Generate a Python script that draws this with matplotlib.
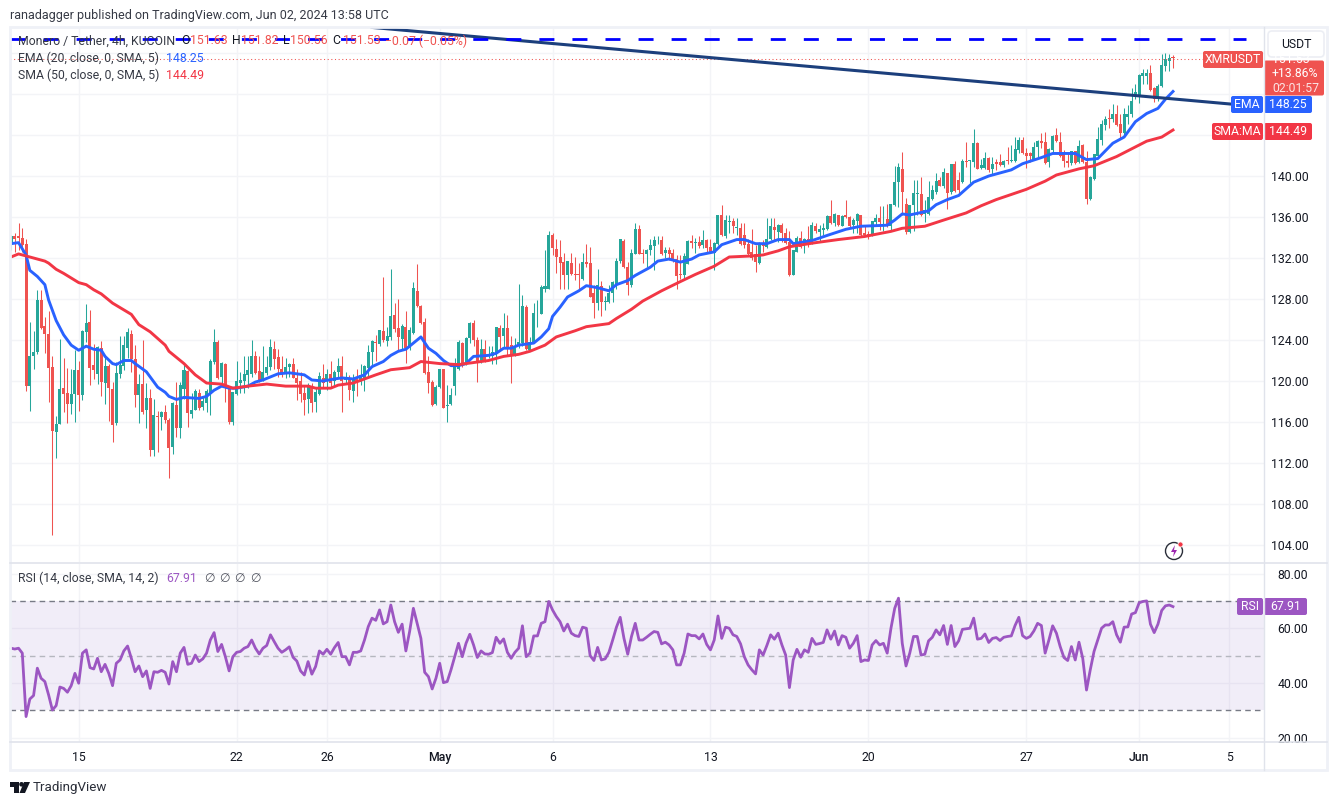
"""XMR/USDT 4h TradingView chart with EMA, SMA and RSI panes."""

import matplotlib

matplotlib.use("Agg")
import matplotlib.pyplot as plt
import numpy as np
from matplotlib.patches import Circle, FancyBboxPatch, Polygon, Rectangle

opens = [
    133.4, 134.1, 134.1, 134.0, 133.4, 119.5, 122.4, 122.8, 127.9, 125.4,
    124.6, 121.4, 115.0, 115.8, 119.3, 118.8, 117.8, 118.7, 121.1, 118.6,
    124.8, 125.8, 121.6, 120.7, 123.2, 119.8, 121.5, 119.2, 115.9, 120.7,
    121.5, 123.2, 124.6, 122.1, 118.6, 119.7, 117.2, 118.3, 113.3, 116.6,
    116.5, 117.0, 116.2, 113.6, 117.7, 115.4, 119.2, 121.0, 116.8, 117.2,
    118.8, 117.5, 117.9, 118.7, 121.9, 123.8, 120.4, 121.7, 119.5, 116.0,
    118.7, 119.8, 120.0, 120.6, 120.7, 122.4, 121.0, 120.1, 120.8, 121.4,
    123.1, 122.3, 121.2, 120.7, 121.4, 121.7, 120.3, 120.0, 118.8, 118.2,
    119.5, 118.0, 118.7, 120.3, 120.0, 120.7, 120.0, 120.9, 121.5, 120.1,
    120.3, 119.0, 120.4, 119.9, 120.1, 121.3, 122.8, 123.8, 123.6, 124.9,
    123.9, 124.3, 126.4, 125.2, 124.1, 125.3, 123.2, 124.7, 128.8, 127.3,
    125.8, 120.9, 119.9, 117.8, 119.4, 121.2, 117.6, 117.8, 119.5, 121.2,
    123.7, 121.7, 124.2, 125.7, 124.0, 122.0, 123.1, 122.4, 122.4, 122.7,
    125.2, 124.4, 125.2, 123.5, 122.4, 123.4, 123.7, 127.2, 123.0, 123.8,
    126.5, 126.5, 129.0, 129.0, 134.2, 132.9, 132.1, 131.6, 130.3, 131.5,
    130.4, 130.4, 130.0, 131.6, 131.5, 128.6, 127.6, 129.3, 127.7, 127.7,
    128.6, 129.5, 131.7, 133.7, 131.1, 129.4, 132.4, 134.8, 132.5, 132.4,
    132.8, 133.2, 133.8, 133.8, 132.5, 132.8, 132.5, 131.9, 130.4, 130.3,
    131.4, 133.7, 133.5, 133.6, 133.3, 133.8, 133.1, 132.5, 133.4, 136.2,
    134.1, 135.5, 135.6, 134.9, 134.9, 134.2, 133.4, 132.6, 132.4, 131.5,
    133.5, 133.1, 133.9, 135.0, 134.5, 135.2, 134.4, 133.6, 130.3, 132.6,
    134.0, 133.3, 133.9, 133.6, 135.1, 134.5, 134.7, 134.8, 136.1, 135.4,
    136.2, 135.1, 136.2, 136.0, 135.2, 135.6, 136.2, 134.4, 134.3, 134.2,
    135.5, 135.9, 135.6, 135.8, 135.1, 137.2, 139.4, 140.7, 137.3, 134.5,
    137.2, 138.2, 138.2, 136.3, 136.3, 137.8, 138.4, 139.6, 139.0, 140.3,
    138.4, 141.2, 139.6, 139.4, 141.5, 141.5, 141.4, 143.2, 140.8, 140.8,
    141.8, 140.7, 141.4, 141.4, 141.1, 141.6, 141.5, 141.5, 142.5, 143.5,
    142.2, 142.2, 141.7, 142.8, 143.4, 143.3, 141.4, 142.5, 144.0, 143.3,
    142.3, 141.5, 141.3, 142.4, 141.4, 143.0, 141.4, 137.8, 139.7, 142.0,
    143.5, 145.0, 145.7, 145.6, 146.1, 145.1, 144.2, 145.8, 146.1, 147.8,
    147.8, 149.8, 149.8, 150.1, 148.6, 147.6, 148.8, 150.7, 151.2, 151.63,
]
highs = [
    134.2, 134.4, 135.4, 134.9, 133.9, 125.8, 124.9, 128.9, 128.9, 126.2,
    126.8, 122.4, 116.6, 124.1, 122.2, 121.3, 121.2, 123.0, 122.0, 125.0,
    127.5, 126.9, 123.6, 123.4, 123.9, 122.5, 121.7, 119.9, 121.9, 124.4,
    124.4, 125.2, 125.0, 123.5, 120.7, 124.0, 119.8, 119.2, 118.2, 117.1,
    117.1, 117.7, 116.4, 118.0, 119.9, 119.9, 121.7, 121.1, 118.8, 119.2,
    119.2, 118.5, 119.2, 122.1, 125.1, 124.0, 121.9, 121.8, 119.5, 118.9,
    122.0, 120.9, 122.4, 122.4, 124.0, 122.9, 122.4, 123.4, 122.4, 124.1,
    123.9, 123.1, 122.4, 122.2, 121.8, 122.2, 121.2, 120.9, 119.6, 119.8,
    119.8, 119.3, 120.9, 121.7, 121.2, 122.0, 121.1, 122.2, 122.4, 120.9,
    120.6, 120.7, 121.2, 121.7, 121.6, 123.5, 124.0, 124.5, 125.0, 130.1,
    125.3, 130.9, 127.6, 128.0, 125.6, 126.8, 125.3, 129.7, 131.4, 127.4,
    126.1, 122.4, 120.1, 119.6, 121.2, 121.2, 119.6, 119.3, 122.2, 124.0,
    123.8, 124.3, 125.8, 126.0, 124.3, 124.1, 124.0, 123.4, 123.4, 125.3,
    125.5, 126.6, 126.4, 124.4, 124.2, 129.5, 128.4, 127.4, 124.3, 127.6,
    127.9, 129.4, 132.8, 134.6, 134.4, 133.9, 133.8, 132.5, 131.7, 132.5,
    132.1, 131.5, 132.5, 133.4, 133.1, 129.4, 130.9, 129.8, 128.3, 129.4,
    129.8, 132.0, 133.9, 133.9, 131.6, 132.9, 135.4, 135.2, 132.9, 132.9,
    133.9, 134.1, 134.1, 134.1, 133.1, 133.1, 132.9, 132.3, 132.3, 132.5,
    133.8, 134.2, 134.0, 134.1, 134.7, 133.9, 133.9, 133.6, 136.2, 137.2,
    136.2, 136.2, 135.9, 135.9, 135.4, 135.4, 133.9, 134.8, 133.3, 133.6,
    133.8, 135.9, 135.9, 135.9, 135.3, 135.4, 134.9, 134.6, 132.8, 134.1,
    134.6, 134.0, 135.1, 135.5, 135.4, 135.2, 135.4, 136.2, 137.7, 136.4,
    136.2, 136.2, 137.7, 136.1, 135.9, 136.4, 136.2, 135.1, 134.6, 135.6,
    136.3, 137.1, 137.1, 137.3, 137.3, 141.0, 141.3, 142.3, 137.9, 137.2,
    139.6, 139.6, 139.9, 137.7, 139.5, 139.1, 140.3, 139.9, 140.8, 140.3,
    141.2, 141.5, 140.4, 141.7, 143.3, 141.6, 144.6, 143.3, 141.7, 142.3,
    141.9, 141.9, 141.7, 142.1, 141.6, 142.8, 143.0, 143.8, 143.8, 143.8,
    142.7, 142.3, 143.3, 143.5, 144.2, 144.3, 142.7, 144.0, 144.7, 144.3,
    142.5, 142.3, 142.4, 142.4, 143.5, 143.1, 142.4, 140.0, 142.1, 144.8,
    145.5, 145.9, 146.5, 147.0, 146.9, 146.1, 146.6, 146.9, 148.6, 149.0,
    150.0, 150.4, 150.4, 150.8, 148.7, 149.0, 151.9, 152.0, 151.9, 151.82,
]
lows = [
    132.8, 132.6, 132.8, 132.6, 119.0, 117.1, 121.2, 122.6, 125.1, 122.7,
    118.0, 105.0, 112.5, 115.8, 117.0, 115.9, 116.8, 116.0, 117.1, 118.1,
    123.8, 119.6, 120.2, 119.7, 118.5, 117.8, 116.1, 114.0, 115.7, 120.3,
    121.1, 122.2, 120.9, 117.5, 115.9, 116.8, 115.4, 112.7, 112.7, 113.1,
    115.2, 115.9, 110.5, 112.9, 114.5, 114.4, 118.2, 115.5, 116.4, 117.2,
    117.2, 117.2, 117.0, 116.7, 121.7, 120.2, 119.5, 118.0, 115.8, 115.7,
    118.6, 118.8, 118.8, 119.3, 120.4, 120.7, 119.9, 120.0, 120.6, 121.1,
    121.2, 120.4, 120.4, 120.3, 120.4, 120.3, 118.1, 118.0, 116.7, 116.9,
    117.0, 117.0, 118.6, 119.3, 119.1, 119.3, 119.5, 120.4, 117.0, 119.8,
    118.1, 118.0, 118.5, 119.6, 119.0, 120.4, 121.4, 122.0, 123.4, 123.8,
    123.4, 124.0, 124.8, 123.0, 123.0, 121.8, 123.0, 124.6, 127.2, 125.6,
    120.7, 118.8, 117.6, 117.7, 119.3, 117.4, 116.0, 117.7, 118.6, 121.1,
    121.4, 121.6, 123.7, 123.4, 119.9, 121.8, 121.9, 122.2, 121.7, 121.7,
    122.9, 123.2, 122.5, 119.8, 122.4, 123.2, 123.4, 123.0, 122.9, 123.7,
    125.3, 126.5, 128.7, 129.0, 132.3, 130.5, 129.0, 129.0, 129.0, 130.3,
    129.9, 129.0, 129.9, 131.1, 128.2, 126.1, 126.9, 126.3, 126.9, 127.6,
    127.7, 129.0, 131.5, 131.0, 128.4, 129.2, 132.4, 132.4, 131.5, 131.1,
    132.3, 130.8, 133.4, 132.3, 132.0, 131.8, 131.6, 129.0, 130.0, 130.0,
    131.4, 133.0, 132.5, 133.0, 133.0, 132.5, 132.5, 130.8, 133.3, 134.1,
    134.0, 134.4, 134.4, 134.2, 133.3, 133.0, 132.3, 131.8, 130.6, 131.4,
    132.6, 133.0, 133.8, 133.8, 133.6, 133.6, 133.4, 130.2, 130.3, 132.6,
    133.0, 132.5, 133.1, 133.4, 134.4, 133.6, 134.2, 134.7, 135.3, 135.1,
    135.1, 135.1, 135.9, 135.0, 134.4, 134.4, 134.1, 134.1, 133.9, 134.1,
    135.1, 134.7, 134.6, 135.0, 134.6, 137.1, 137.0, 136.2, 134.3, 134.4,
    134.6, 136.2, 136.1, 135.5, 136.2, 137.7, 138.2, 139.0, 138.8, 136.8,
    138.2, 138.4, 138.1, 139.3, 140.9, 139.3, 140.9, 140.7, 140.7, 140.7,
    140.4, 140.1, 140.6, 141.0, 140.9, 141.2, 141.4, 141.4, 142.2, 142.1,
    140.8, 141.4, 141.7, 141.9, 142.7, 141.2, 140.9, 142.2, 143.3, 141.9,
    140.9, 140.9, 141.1, 141.2, 141.3, 141.3, 137.3, 137.7, 139.6, 141.9,
    143.0, 144.5, 144.7, 145.3, 144.9, 143.7, 144.0, 145.1, 145.8, 147.5,
    147.1, 149.0, 149.0, 148.3, 147.2, 147.3, 148.7, 150.2, 150.2, 150.56,
]
closes = [
    134.1, 133.9, 134.0, 133.3, 119.5, 122.4, 122.8, 127.9, 125.2, 124.6,
    121.3, 115.1, 115.8, 119.2, 118.7, 117.8, 118.7, 121.1, 118.6, 124.9,
    125.7, 121.3, 121.1, 123.3, 119.9, 121.5, 119.3, 115.7, 120.8, 121.6,
    123.5, 124.8, 122.1, 118.6, 119.7, 117.0, 118.3, 113.3, 116.7, 116.5,
    117.0, 116.2, 113.5, 117.9, 115.4, 119.6, 121.1, 116.9, 117.2, 119.0,
    117.4, 118.0, 119.0, 122.0, 123.8, 120.3, 121.8, 119.3, 116.0, 118.9,
    120.0, 120.1, 120.7, 121.1, 122.4, 120.8, 120.1, 120.9, 121.4, 123.3,
    122.1, 121.2, 120.7, 121.4, 121.7, 120.3, 119.8, 118.7, 118.1, 119.6,
    117.9, 118.9, 120.5, 119.8, 120.7, 119.8, 120.9, 121.5, 120.0, 120.4,
    119.1, 120.3, 119.8, 120.6, 121.5, 122.8, 123.9, 123.7, 125.0, 124.0,
    124.4, 126.3, 125.1, 124.3, 125.4, 123.2, 125.0, 129.1, 127.3, 125.7,
    120.8, 119.8, 117.7, 119.4, 121.2, 117.4, 117.7, 118.6, 121.4, 123.8,
    121.6, 124.2, 125.7, 124.0, 121.9, 123.1, 122.0, 122.5, 122.8, 125.3,
    124.3, 125.2, 123.2, 122.5, 123.4, 123.8, 127.3, 123.1, 123.8, 126.6,
    126.5, 129.2, 129.3, 134.2, 133.0, 132.1, 131.5, 130.3, 131.7, 130.4,
    130.3, 130.3, 131.6, 131.4, 128.2, 127.6, 129.4, 127.7, 127.8, 128.6,
    129.7, 131.7, 133.9, 131.1, 129.4, 132.5, 134.8, 132.4, 132.4, 132.8,
    133.3, 133.8, 133.8, 132.4, 132.8, 132.4, 131.9, 130.2, 130.3, 132.2,
    133.7, 133.5, 133.6, 133.2, 133.8, 133.0, 132.5, 133.5, 136.2, 134.2,
    135.7, 135.6, 135.1, 135.0, 133.4, 133.3, 132.4, 132.0, 131.6, 133.5,
    133.2, 133.9, 135.1, 134.7, 135.2, 134.4, 133.5, 130.3, 132.8, 134.0,
    133.1, 133.9, 133.5, 135.2, 134.6, 134.8, 134.9, 136.1, 135.4, 136.3,
    135.2, 136.1, 136.0, 135.1, 135.7, 136.3, 134.2, 134.2, 134.2, 135.6,
    135.9, 135.5, 135.6, 135.1, 137.3, 139.4, 140.9, 138.4, 134.5, 137.2,
    138.3, 138.3, 136.2, 136.7, 138.0, 138.6, 139.5, 139.0, 140.4, 138.3,
    141.2, 138.5, 138.6, 141.5, 141.4, 141.6, 143.2, 140.7, 141.1, 141.8,
    140.6, 141.2, 141.2, 141.1, 141.5, 141.5, 141.6, 142.6, 143.5, 142.2,
    142.0, 142.0, 142.8, 143.4, 143.2, 141.3, 142.6, 143.9, 143.4, 142.0,
    141.5, 141.3, 142.4, 141.3, 142.9, 141.4, 137.8, 139.9, 142.1, 143.6,
    145.1, 145.6, 145.6, 146.1, 145.0, 144.2, 146.1, 146.1, 147.3, 148.2,
    149.9, 150.1, 150.1, 148.4, 147.5, 148.8, 150.8, 151.4, 151.5, 151.53,
]

ema_bars = [
    0, 2, 4, 5, 7, 9, 10, 12, 14, 16, 18, 20, 22, 24, 25, 27, 28, 30, 32, 33,
    36, 38, 39, 41, 42, 44, 46, 50, 52, 54, 56, 58, 60, 63, 65, 67, 69, 71, 74, 76,
    78, 80, 83, 86, 88, 91, 94, 96, 99, 101, 103, 105, 107, 109, 111, 113, 115, 117, 119, 121,
    123, 127, 129, 131, 133, 135, 137, 139, 141, 143, 144, 146, 148, 151, 153, 156, 159, 161, 164, 166,
    170, 172, 175, 178, 181, 183, 187, 189, 193, 195, 198, 201, 204, 207, 208, 213, 217, 222, 226, 233,
    235, 237, 239, 244, 246, 249, 252, 256, 260, 266, 269, 274, 277, 283, 286, 289, 293, 296, 299, 302,
    305, 307, 309,
]
ema_values = [
    133.4, 133.5, 132.3, 130.8, 130.2, 129.4, 127.9, 125.9, 124.5, 123.5,
    123.0, 123.4, 123.1, 123.0, 122.4, 121.7, 121.6, 122.0, 122.0, 121.7,
    120.9, 119.9, 119.4, 118.9, 118.5, 118.2, 118.4, 118.3, 118.5, 119.1,
    119.5, 119.3, 119.3, 119.5, 119.9, 120.1, 120.4, 120.7, 120.8, 120.7,
    120.6, 120.1, 120.0, 120.2, 120.3, 120.2, 120.6, 121.4, 121.9, 122.5,
    122.9, 123.1, 123.7, 124.3, 123.2, 122.7, 122.0, 121.5, 121.5, 121.7,
    122.4, 122.5, 122.7, 123.2, 123.2, 123.5, 123.6, 123.7, 124.3, 125.1,
    126.3, 127.2, 128.2, 128.8, 129.3, 129.1, 128.8, 129.4, 129.8, 130.3,
    131.1, 131.7, 131.9, 131.6, 131.9, 132.3, 132.6, 133.3, 133.8, 133.8,
    133.4, 133.4, 133.8, 133.8, 133.4, 133.7, 134.2, 134.8, 135.1, 135.2,
    135.7, 136.3, 136.2, 136.6, 137.2, 137.7, 138.1, 139.4, 140.0, 140.6,
    141.2, 141.8, 142.2, 142.2, 141.6, 141.7, 143.2, 143.8, 145.3, 146.1,
    146.6, 147.5, 148.25,
]
sma_bars = [
    0, 2, 5, 9, 10, 12, 14, 18, 20, 22, 24, 27, 32, 34, 37, 41, 42, 46, 49, 52,
    56, 59, 63, 68, 73, 79, 81, 85, 87, 91, 94, 97, 101, 106, 109, 114, 119, 123, 127, 131,
    135, 138, 142, 145, 150, 153, 159, 161, 165, 168, 173, 178, 182, 187, 191, 197, 200, 204, 207, 214,
    220, 227, 234, 237, 243, 248, 254, 258, 262, 270, 275, 278, 284, 288, 294, 302, 306, 309,
]
sma_values = [
    132.1, 132.4, 132.1, 131.7, 131.5, 130.9, 130.5, 129.6, 129.4, 128.9,
    128.5, 127.6, 126.5, 125.5, 124.8, 123.5, 122.9, 121.7, 120.6, 119.8,
    119.7, 119.3, 119.5, 119.7, 119.5, 119.5, 119.3, 119.3, 119.6, 119.8,
    120.2, 120.6, 121.1, 121.3, 121.9, 121.7, 121.6, 121.8, 122.0, 122.4,
    122.6, 122.9, 123.5, 124.3, 124.9, 125.3, 125.6, 126.1, 127.0, 127.8,
    128.8, 129.7, 130.4, 131.2, 132.1, 132.2, 132.3, 132.7, 133.1, 133.5,
    133.8, 134.1, 134.6, 134.9, 135.1, 135.7, 136.4, 137.1, 137.7, 138.7,
    139.5, 140.1, 140.7, 141.0, 141.9, 143.4, 143.8, 144.49,
]
rsi_values = [
    52.7, 52.4, 52.7, 50.9, 27.7, 34.1, 35.4, 45.4, 41.7, 40.5,
    35.6, 30.1, 31.7, 38.5, 38.0, 36.6, 39.0, 43.5, 39.9, 50.9,
    52.1, 45.6, 45.1, 49.0, 44.1, 46.8, 43.5, 39.0, 47.2, 48.4,
    51.7, 53.5, 49.0, 44.1, 46.2, 42.3, 44.4, 38.0, 44.1, 43.9,
    44.6, 43.9, 39.6, 47.8, 44.1, 50.9, 53.0, 46.8, 47.2, 50.2,
    47.8, 48.8, 50.9, 55.7, 58.4, 51.5, 54.1, 49.6, 44.4, 49.6,
    51.2, 51.5, 52.7, 53.3, 55.7, 52.7, 50.6, 52.7, 53.7, 57.6,
    55.1, 52.7, 51.2, 52.1, 53.2, 49.4, 48.0, 44.4, 42.9, 47.8,
    43.2, 46.0, 51.7, 50.5, 52.3, 50.5, 52.9, 54.8, 49.6, 49.6,
    46.6, 51.2, 51.2, 51.7, 55.7, 60.6, 63.7, 62.9, 66.7, 61.6,
    62.4, 68.5, 62.4, 58.5, 61.5, 51.7, 58.8, 67.3, 61.8, 56.3,
    43.9, 42.3, 37.8, 41.7, 47.2, 40.1, 40.5, 44.8, 49.6, 54.5,
    49.6, 54.5, 57.8, 53.9, 49.3, 51.7, 50.6, 50.5, 51.1, 56.7,
    54.5, 56.1, 51.2, 49.0, 51.2, 52.7, 60.9, 49.6, 50.9, 57.2,
    57.2, 61.8, 62.4, 69.8, 66.7, 64.3, 62.4, 59.0, 61.5, 58.2,
    57.3, 57.0, 60.4, 60.0, 50.0, 48.2, 53.0, 48.4, 48.8, 51.2,
    55.7, 60.4, 64.0, 56.3, 50.5, 57.0, 61.8, 55.7, 55.7, 56.7,
    57.8, 58.8, 58.5, 54.3, 54.9, 53.9, 52.1, 46.6, 46.6, 50.9,
    57.9, 57.3, 57.3, 56.1, 57.9, 54.1, 52.1, 55.7, 64.5, 56.3,
    60.4, 60.0, 57.6, 57.0, 54.3, 49.6, 46.6, 44.8, 43.3, 52.1,
    50.2, 53.7, 57.6, 56.0, 58.2, 53.9, 50.2, 38.3, 48.4, 52.3,
    49.4, 52.1, 51.2, 56.3, 54.1, 54.4, 54.8, 59.4, 56.0, 59.0,
    53.9, 57.3, 56.7, 52.7, 54.5, 57.3, 47.8, 48.4, 48.2, 53.9,
    55.5, 53.9, 54.5, 50.9, 60.0, 67.3, 71.0, 54.5, 46.2, 50.9,
    57.0, 57.0, 50.2, 50.5, 55.4, 56.7, 59.4, 57.6, 61.0, 54.1,
    61.0, 53.3, 55.4, 59.6, 59.8, 60.0, 63.7, 56.0, 56.3, 57.9,
    54.8, 56.3, 56.6, 55.5, 56.7, 57.0, 57.2, 61.0, 64.0, 57.3,
    56.3, 57.0, 59.0, 61.8, 61.0, 50.9, 55.7, 60.9, 58.2, 53.3,
    49.3, 48.2, 53.3, 48.4, 54.9, 49.0, 37.4, 44.8, 51.5, 55.7,
    60.0, 61.2, 61.2, 62.4, 57.6, 54.9, 60.4, 60.5, 65.2, 65.7,
    69.3, 69.8, 70.0, 61.5, 58.4, 61.5, 66.5, 68.2, 68.5, 67.91,
]

trend_bars = [96, 325]
trend_prices = [154.5, 147.0]
resistance = 153.37
last_line = 151.4

price_ticks = [104, 108, 112, 116, 120, 124, 128, 132, 136, 140, 144, 148, 152]
price_labels = ["104.00", "108.00", "112.00", "116.00", "120.00", "124.00", "128.00",
                "132.00", "136.00", "140.00", "", "", ""]
rsi_ticks = [20, 40, 60, 80]
date_bars = [18, 60, 84, 114, 144, 186, 228, 270, 300, 324]
date_labels = ["15", "22", "26", "May", "6", "13", "20", "27", "Jun", "5"]

W, H = 1338, 805
UP = "#26a69a"
DOWN = "#ef5350"
EMA_COLOR = "#2962ff"
SMA_COLOR = "#f23645"
RSI_COLOR = "#9c56c2"
GRID = "#f3f4f7"
BORDER = "#e0e3eb"
TEXT = "#131722"
FONT = "Roboto"

plt.rcParams["font.family"] = [FONT, "DejaVu Sans"]
plt.rcParams["font.size"] = 8.8

fig = plt.figure(figsize=(W / 100, H / 100), dpi=100, facecolor="white")


def pane(left, top, right, bottom):
    return fig.add_axes([left / W, 1 - bottom / H, (right - left) / W, (bottom - top) / H])


ax = pane(10, 27, 1264, 562)
ax_rsi = pane(10, 564, 1264, 742)
bar_x = np.arange(len(closes))
for a in (ax, ax_rsi):
    a.set_xlim(-0.27, 333.2)
    a.set_xticks(date_bars)
    a.grid(True, color=GRID, lw=1.0)
    a.set_axisbelow(True)
    a.yaxis.tick_right()
    a.tick_params(length=0, labelcolor=TEXT)
    for spine in a.spines.values():
        spine.set_visible(False)

ax.set_ylim(102.34, 154.54)
ax.set_yticks(price_ticks, price_labels)
ax.tick_params(axis="x", labelbottom=False)

opens_arr, closes_arr = np.array(opens), np.array(closes)
colors = [UP if c >= o else DOWN for o, c in zip(opens, closes)]
ax.vlines(bar_x, lows, highs, colors=colors, lw=0.75, zorder=2)
ax.bar(bar_x, np.abs(closes_arr - opens_arr), bottom=np.minimum(opens_arr, closes_arr),
       width=0.8, color=colors, lw=0, zorder=3)

ax.plot(ema_bars, ema_values, color=EMA_COLOR, lw=2.1, zorder=5)
ax.plot(sma_bars, sma_values, color=SMA_COLOR, lw=2.1, zorder=5)
ax.plot(trend_bars, trend_prices, color="#1c3f7c", lw=2.2, zorder=6)
ax.plot([-0.27, 328.5], [resistance, resistance], color="#0000ff", lw=2.0,
        dashes=(5.4, 6.5), dash_capstyle="butt", zorder=6)
ax.plot([-0.27, 317], [last_line, last_line], color=DOWN, lw=0.75,
        ls=(0, (1, 2.5)), zorder=4)

ax_rsi.set_ylim(18.4, 83.5)
ax_rsi.set_yticks(rsi_ticks, [f"{t:.2f}" for t in rsi_ticks])
ax_rsi.set_xticks(date_bars, date_labels)
ax_rsi.axhspan(30, 70, color="#7e57c2", alpha=0.1, lw=0, zorder=1)
ax_rsi.axhline(70, color="#787b86", lw=1, dashes=(4, 3), zorder=2)
ax_rsi.axhline(50, color="#b5b7bf", lw=1, dashes=(4, 3), zorder=2)
ax_rsi.axhline(30, color="#787b86", lw=1, dashes=(4, 3), zorder=2)
ax_rsi.plot(bar_x, rsi_values, color=RSI_COLOR, lw=2.0, zorder=4, clip_on=False)
ax_rsi.tick_params(axis="x", pad=6.5)
for label_obj in ax_rsi.get_xticklabels():
    if label_obj.get_text() in ("May", "Jun"):
        label_obj.set_fontweight("medium")
for a in (ax, ax_rsi):
    a.tick_params(axis="y", pad=32)
    for label_obj in a.get_yticklabels():
        label_obj.set_horizontalalignment("right")

# chrome, labels and logo live on one overlay in pixel coordinates
ov = fig.add_axes([0, 0, 1, 1], zorder=10)
ov.set_xlim(0, W)
ov.set_ylim(H, 0)
ov.axis("off")
ov.patch.set_alpha(0)

ov.add_patch(Rectangle((10, 27), 1317, 743, fill=False, ec="#eff1f7", lw=2))
ov.plot([10, 1327], [563, 563], color=BORDER, lw=1.2)
ov.plot([10, 1327], [742, 742], color=BORDER, lw=1.2)
ov.plot([1264, 1264], [27, 770], color=BORDER, lw=1.0)


def label(x, y, s, color=TEXT, size=8.8, **kw):
    kw.setdefault("va", "center")
    ov.text(x, y, s, color=color, fontsize=size, **kw)


def box(x0, y0, x1, y1, color, round_px=2):
    ov.add_patch(FancyBboxPatch((x0 + round_px, y0 + round_px), x1 - x0 - 2 * round_px,
                                y1 - y0 - 2 * round_px, boxstyle=f"round,pad={round_px},rounding_size={round_px}",
                                fc=color, ec="none", mutation_aspect=1))


label(10, 15, "ranadagger published on TradingView.com, Jun 02, 2024 13:58 UTC", color="#363a45", size=9.0)
label(18, 41, "Monero / Tether, 4h, KUCOIN", color="#363a45")
for x, s, c in [(181, "O", TEXT), (190, "151.63", DOWN), (232, "H", TEXT), (241, "151.82", DOWN),
                (283, "L", TEXT), (290, "150.56", DOWN), (332, "C", TEXT), (343, "151.53", DOWN),
                (385, "\u22120.07 (\u22120.05%)", DOWN)]:
    label(x, 41, s, color=c)
label(18, 58.5, "EMA (20, close, 0, SMA, 5)", color="#363a45")
label(166, 58.5, "148.25", color=EMA_COLOR)
label(18, 75.5, "SMA (50, close, 0, SMA, 5)", color="#363a45")
label(166, 75.5, "144.49", color=SMA_COLOR)
label(18, 578, "RSI (14, close, SMA, 14, 2)", color="#363a45")
label(166, 578, "67.91", color=RSI_COLOR)
for x in (204, 219, 234, 250):
    label(x, 578, "\u2205", color="#50535e", family="DejaVu Sans")

box(1203, 51, 1263, 68, DOWN)
label(1233, 59.5, "XMRUSDT", color="white", ha="center")
box(1264, 60.5, 1324, 95.5, DOWN)
label(1272, 59.5, "151.53", color="white")
label(1272, 73.5, "+13.86%", color="white")
label(1272, 88, "02:01:57", color="#fbe3e3")
ov.add_patch(FancyBboxPatch((1271, 34), 50, 20, boxstyle="round,pad=3,rounding_size=4",
                            fc="white", ec="#eceef4", lw=1.2))
label(1296, 44.5, "USDT", ha="center")

box(1231, 96, 1263, 113, EMA_COLOR)
label(1247, 104.5, "EMA", color="white", ha="center")
box(1264, 96, 1312, 113, EMA_COLOR)
label(1288, 104.5, "148.25", color="white", ha="center")
box(1212, 123, 1263, 140, SMA_COLOR)
label(1237.5, 131.5, "SMA:MA", color="white", ha="center")
box(1264, 123, 1312, 140, SMA_COLOR)
label(1288, 131.5, "144.49", color="white", ha="center")
box(1237, 598, 1263, 615, RSI_COLOR)
label(1250, 606.5, "RSI", color="white", ha="center")
box(1264, 598, 1307, 615, RSI_COLOR)
label(1285.5, 606.5, "67.91", color="white", ha="center")

ov.add_patch(Circle((1174, 551), 8.5, fc="white", ec="#2a2e39", lw=1))
ov.add_patch(Polygon([(1175, 545), (1171, 552), (1174, 552), (1173, 557), (1177, 550), (1174, 550)],
                     fc="#9c27b0", ec="none"))
ov.add_patch(Circle((1180.5, 544.5), 2.6, fc="#f23645", ec="white", lw=0.6))

ov.add_patch(Polygon([(10, 782), (19, 782), (19, 793), (14, 793), (14, 786.5), (10, 786.5)], fc=TEXT, ec="none"))
ov.add_patch(Circle((21.5, 784.3), 2.3, fc=TEXT, ec="none"))
ov.add_patch(Polygon([(24, 782), (30, 782), (25, 793), (19.5, 793)], fc=TEXT, ec="none"))
label(33, 787.5, "TradingView", size=9.6, color="#2a2e39")

fig.savefig("out.png", dpi=100, facecolor="white")
plt.close(fig)
